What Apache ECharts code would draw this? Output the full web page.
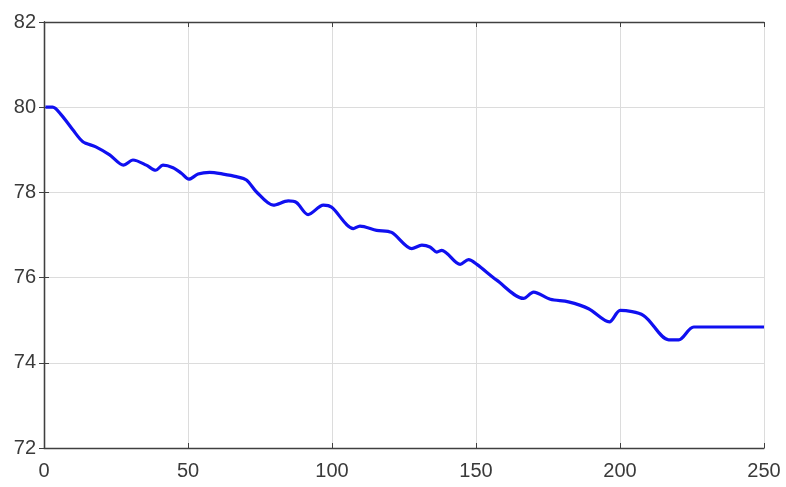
<!DOCTYPE html>
<html><head><meta charset="utf-8">
<script src="https://cdn.jsdelivr.net/npm/echarts@6/dist/echarts.min.js"></script>
<style>html,body{margin:0;padding:0;background:#fff}#c{width:786px;height:487px}</style>
</head><body><div id="c"></div>
<script>
const xValues = [0.5,3,6,10,13.5,18,22.8,27.6,30.9,35.5,38.8,41.3,44.8,47.7,50.3,53.5,57.5,62.2,66.8,70.3,73.8,79.6,84.8,87.7,91.7,97,99.9,107.4,109.7,115.5,120.7,127.7,131.2,134,136.4,138.1,144.5,147.4,150.3,157.2,166.5,170,175.8,182.1,189.1,196.3,200.1,208.2,216.9,220.4,225.6,250];
const yValues = [80.0,80.0,79.82,79.47,79.19,79.07,78.88,78.64,78.76,78.64,78.52,78.64,78.58,78.45,78.31,78.43,78.47,78.43,78.37,78.29,78.01,77.70,77.80,77.76,77.48,77.70,77.65,77.15,77.21,77.11,77.06,76.68,76.76,76.72,76.60,76.64,76.31,76.42,76.31,75.94,75.51,75.66,75.49,75.43,75.27,74.96,75.23,75.11,74.54,74.54,74.84,74.84];
const xTicks = [0,50,100,150,200,250];
const yTicks = [72,74,76,78,80,82];

const chart = echarts.init(document.getElementById('c'), null, {renderer:'canvas'});
const labelStyle = {color:'#3a3a3a', fontFamily:'Liberation Sans, Arial, sans-serif', fontSize:20};
const line = {show:true, lineStyle:{color:'#404040', width:1.3}};
const tick = {show:true, inside:true, length:5, lineStyle:{color:'#404040'}};
chart.setOption({
  animation:false,
  grid:{left:44, right:22, top:22, bottom:39, show:false},
  xAxis:[
    {type:'value', min:xTicks[0], max:xTicks[xTicks.length-1], interval:50, position:'bottom',
     axisLine:line, axisTick:tick, axisLabel:Object.assign({margin:13}, labelStyle),
     splitLine:{show:true, lineStyle:{color:'#dcdcdc', width:1}}},
    {type:'value', min:xTicks[0], max:xTicks[xTicks.length-1], interval:50, position:'top',
     axisLine:line, axisTick:tick, axisLabel:{show:false}, splitLine:{show:false}}
  ],
  yAxis:[
    {type:'value', min:yTicks[0], max:yTicks[yTicks.length-1], interval:2, position:'left',
     axisLine:line, axisTick:tick, axisLabel:Object.assign({margin:8}, labelStyle),
     splitLine:{show:true, lineStyle:{color:'#dcdcdc', width:1}}},
    {type:'value', min:yTicks[0], max:yTicks[yTicks.length-1], interval:2, position:'right',
     axisLine:line, axisTick:tick, axisLabel:{show:false}, splitLine:{show:false}}
  ],
  series:[{
    type:'line', xAxisIndex:0, yAxisIndex:0, showSymbol:false, smooth:0.3,
    data:xValues.map((x,i)=>[x,yValues[i]]),
    lineStyle:{color:'#1010f0', width:3.2}
  }]
});
</script></body></html>
